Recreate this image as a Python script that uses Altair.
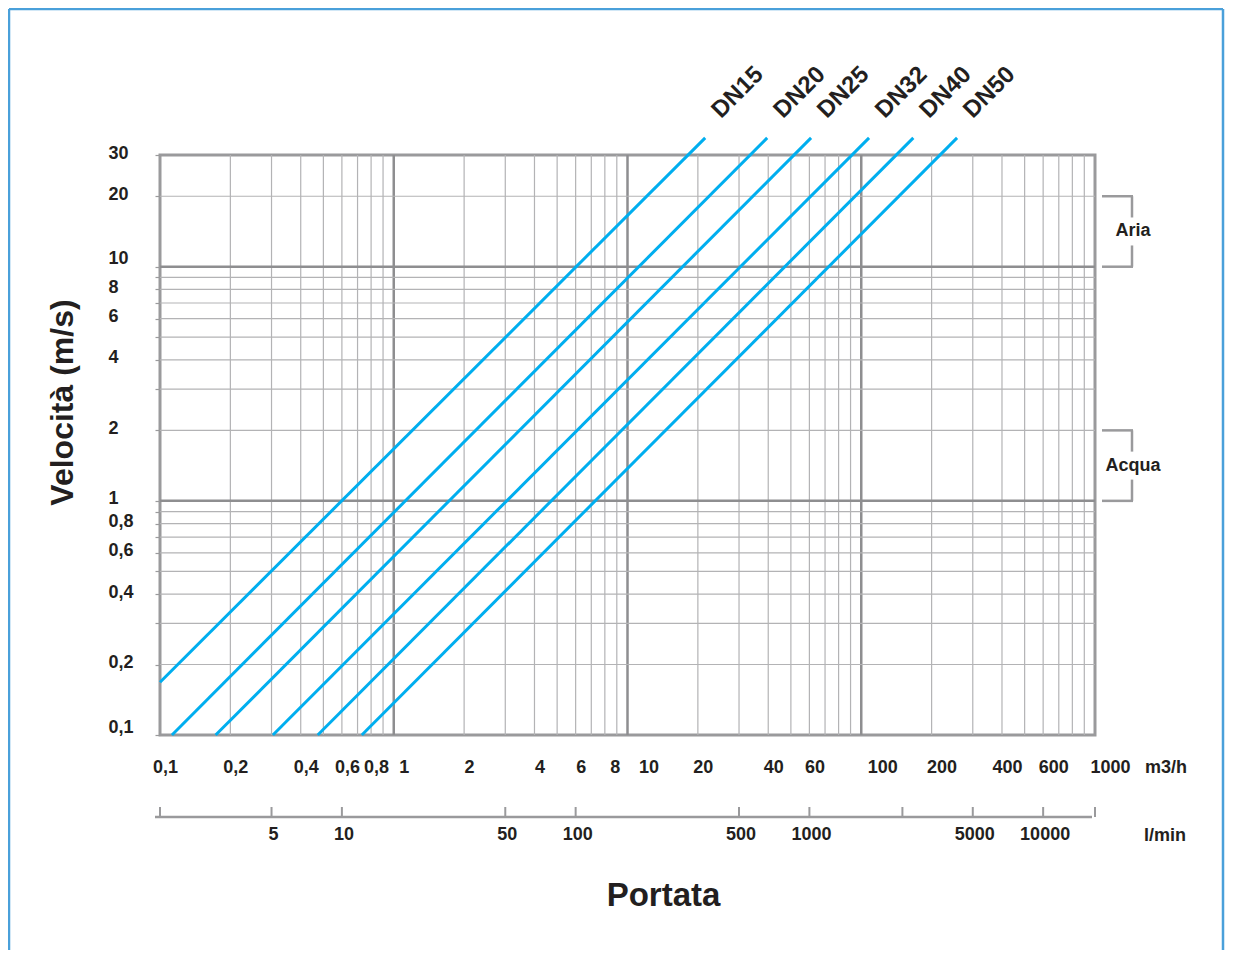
import altair as alt
import pandas as pd

# ---- data ----
dn_names = ["DN15", "DN20", "DN25", "DN32", "DN40", "DN50"]
q_start = [0.1, 0.1125, 0.173, 0.304, 0.473, 0.73]      # m3/h
v_start = [0.168, 0.1, 0.1, 0.1, 0.1, 0.1]              # m/s
q_end = [21.5, 39.6, 61.0, 108.0, 167.0, 257.0]         # m3/h
v_end = [35.5, 35.5, 35.5, 35.5, 35.5, 35.5]            # m/s

x_labels = [0.1, 0.2, 0.4, 0.6, 0.8, 1, 2, 4, 6, 8, 10, 20, 40, 60, 100, 200, 400, 600, 1000]
y_labels = [0.1, 0.2, 0.4, 0.6, 0.8, 1, 2, 4, 6, 8, 10, 20, 30]
x_grid_minor = [0.2, 0.3, 0.4, 0.5, 0.6, 0.7, 0.8, 0.9,
                2, 3, 4, 5, 6, 7, 8, 9,
                20, 30, 40, 50, 60, 70, 80, 90,
                200, 300, 400, 500, 600, 700, 800, 900]
x_grid_major = [1, 10, 100]
y_grid_minor = [0.2, 0.3, 0.4, 0.5, 0.6, 0.7, 0.8, 0.9,
                2, 3, 4, 5, 6, 7, 8, 9, 20]
y_grid_major = [1, 10]
y_ticks = [0.1, 0.2, 0.3, 0.4, 0.5, 0.6, 0.7, 0.8, 0.9,
           1, 2, 3, 4, 5, 6, 7, 8, 9, 10, 20, 30]

lmin_labels = [5, 10, 50, 100, 500, 1000, 5000, 10000]
lmin_label_text = ["5", "10", "50", "100", "500", "1000", "5000", "10000"]
lmin_plain_ticks = [1.667, 2500, 16667]

range_names = ["Aria", "Acqua"]
range_top = [20, 2]
range_bottom = [10, 1]

# ---- styling ----
FONT = "Liberation Sans"
TXT = "#231f20"
GRID = "#b3b3b5"
GRID_MAJ = "#8e8e90"
FRAME = "#9a9a9c"
BLUE = "#00aeef"
W, H = 935, 580
LFS = 18

xscale = alt.Scale(type="log", domain=[0.1, 1000], nice=False)
yscale = alt.Scale(type="log", domain=[0.1, 30], nice=False)

# ---- tables ----
lines_rows = []
for i, n in enumerate(dn_names):
    lines_rows.append({"dn": n, "q": q_start[i], "v": v_start[i]})
    lines_rows.append({"dn": n, "q": q_end[i], "v": v_end[i]})
lines_df = pd.DataFrame(lines_rows)
ends_df = pd.DataFrame({"dn": dn_names, "q": q_end, "v": v_end})

xmin_df = pd.DataFrame({"q": x_grid_minor})
xmaj_df = pd.DataFrame({"q": x_grid_major})
ymin_df = pd.DataFrame({"v": y_grid_minor})
ymaj_df = pd.DataFrame({"v": y_grid_major})
lmin_df = pd.DataFrame({"lmin": lmin_labels, "txt": lmin_label_text})
lmin_t_df = pd.DataFrame({"lmin": lmin_labels + lmin_plain_ticks})
rng_df = pd.DataFrame({"name": range_names, "top": range_top, "bottom": range_bottom})

label_list = ",".join(str(v) for v in y_labels)

x_axis = alt.Axis(
    values=x_labels, ticks=False, tickSize=0, domain=False, grid=False,
    labelExpr="replace(format(datum.value, '~g'), '.', ',')",
    labelFont=FONT, labelFontSize=LFS, labelFontWeight="bold", labelColor=TXT,
    labelPadding=32, labelBaseline="middle", labelFlush=False, labelOverlap=False,
    labelOffset={"condition": [
        {"test": "datum.value == 10 || datum.value == 100", "value": 21},
        {"test": "datum.value == 1000", "value": 15},
        {"test": "datum.value == 1 || datum.value == 8 || datum.value == 200 || datum.value == 600",
         "value": 10},
    ], "value": 5},
    title="Portata", titleFont=FONT, titleFontSize=33, titleFontWeight="bold",
    titleColor=TXT, titleX=503, titleY=160, titleBaseline="middle", titleAlign="center",
)
y_axis = alt.Axis(
    values=y_ticks, ticks=True, tickSize=5, tickColor=FRAME, tickWidth=1.2,
    domain=False, grid=False,
    labelExpr=f"indexof([{label_list}], datum.value) >= 0 ? replace(format(datum.value, '~g'), '.', ',') : ''",
    labelFont=FONT, labelFontSize=LFS, labelFontWeight="bold", labelColor=TXT,
    labelAlign="left", labelBaseline="middle", labelPadding=47,
    labelFlush=False, labelOverlap=False,
    labelOffset={"condition": {"test": "datum.value == 10 || datum.value == 0.1", "value": -8},
                 "value": -2},
    title="Velocità (m/s)", titleFont=FONT, titleFontSize=32, titleFontWeight="bold",
    titleColor=TXT, titleX=-98, titleY=247, titleAngle=270,
    titleAlign="center", titleBaseline="middle",
)


def X(field):
    return alt.X(field, scale=xscale, axis=x_axis)


def Y(field):
    return alt.Y(field, scale=yscale, axis=y_axis)


vgrid = alt.Chart(xmin_df).mark_rule(color=GRID, strokeWidth=1.2).encode(x=X("q:Q"))
vgrid_maj = alt.Chart(xmaj_df).mark_rule(color=GRID_MAJ, strokeWidth=2.5).encode(x=X("q:Q"))
hgrid = alt.Chart(ymin_df).mark_rule(color=GRID, strokeWidth=1.2).encode(y=Y("v:Q"))
hgrid_maj = alt.Chart(ymaj_df).mark_rule(color=GRID_MAJ, strokeWidth=2.5).encode(y=Y("v:Q"))

lines = alt.Chart(lines_df).mark_line(color=BLUE, strokeWidth=3, clip=False).encode(
    x=X("q:Q"), y=Y("v:Q"), detail="dn:N",
)
dn_text = alt.Chart(ends_df).mark_text(
    angle=315, align="center", baseline="middle", dx=55, dy=-9,
    font=FONT, fontSize=24, fontWeight="bold", color=TXT,
).encode(x=X("q:Q"), y=Y("v:Q"), text="dn:N")

# units label for m3/h axis
unit_m3h = alt.Chart(pd.DataFrame({"t": ["m3/h"]})).mark_text(
    font=FONT, fontSize=LFS, fontWeight="bold", color=TXT, align="center", baseline="middle"
).encode(x=alt.value(1006), y=alt.value(613), text="t:N")

# l/min secondary axis
lmin_line = alt.Chart(pd.DataFrame({"a": [0]})).mark_rule(color=FRAME, strokeWidth=2.5).encode(
    x=alt.value(-5), x2=alt.value(932), y=alt.value(662))
lmin_ticks = alt.Chart(lmin_t_df).transform_calculate(q="datum.lmin * 0.06").mark_rule(
    color=FRAME, strokeWidth=2).encode(
    x=X("q:Q"), y=alt.value(662), y2=alt.value(652))
lmin_text = alt.Chart(lmin_df).transform_calculate(q="datum.lmin * 0.06").mark_text(
    font=FONT, fontSize=LFS, fontWeight="bold", color=TXT, align="center", baseline="middle",
    dx=2,
).encode(x=X("q:Q"), y=alt.value(680), text="txt:N")
unit_lmin = alt.Chart(pd.DataFrame({"t": ["l/min"]})).mark_text(
    font=FONT, fontSize=LFS, fontWeight="bold", color=TXT, align="center", baseline="middle"
).encode(x=alt.value(1005), y=alt.value(681), text="t:N")

# range brackets (Aria / Acqua)
rng_base = alt.Chart(rng_df).transform_calculate(mid="sqrt(datum.top * datum.bottom)")
br_top = rng_base.mark_rule(color=FRAME, strokeWidth=2.5).encode(
    x=alt.value(942), x2=alt.value(973), y=Y("top:Q"))
br_bot = rng_base.mark_rule(color=FRAME, strokeWidth=2.5).encode(
    x=alt.value(942), x2=alt.value(973), y=Y("bottom:Q"))
br_vert = rng_base.mark_rule(color=FRAME, strokeWidth=2.5).encode(
    x=alt.value(972), y=Y("top:Q"), y2="bottom:Q")
br_gap = rng_base.mark_square(color="white", opacity=1, size=784, filled=True).encode(
    x=alt.value(972), y=Y("mid:Q"))
br_text = rng_base.mark_text(
    font=FONT, fontSize=LFS, fontWeight="bold", color=TXT, align="center", baseline="middle"
).encode(x=alt.value(973), y=Y("mid:Q"), text="name:N")

# outer blue frame
fr = pd.DataFrame({"a": [0]})
frame_l = alt.Chart(fr).mark_rule(color="#4aa0da", strokeWidth=2.5).encode(
    x=alt.value(-151), y=alt.value(-146), y2=alt.value(800))
frame_r = alt.Chart(fr).mark_rule(color="#4aa0da", strokeWidth=2.5).encode(
    x=alt.value(1063), y=alt.value(-146), y2=alt.value(800))
frame_t = alt.Chart(fr).mark_rule(color="#4aa0da", strokeWidth=2.5).encode(
    x=alt.value(-151), x2=alt.value(1063), y=alt.value(-146))

chart = alt.layer(
    vgrid, vgrid_maj, hgrid, hgrid_maj, lines, dn_text, unit_m3h,
    lmin_line, lmin_ticks, lmin_text, unit_lmin,
    br_top, br_bot, br_vert, br_gap, br_text,
    frame_l, frame_r, frame_t,
).properties(
    width=W, height=H,
    autosize=alt.AutoSizeParams(type="none"),
    padding={"left": 152, "top": 147, "right": 130, "bottom": 215},
    background="white",
).configure_view(
    stroke=FRAME, strokeWidth=3
)

chart.save("out.html", embed_options={"renderer": "svg", "actions": False})
